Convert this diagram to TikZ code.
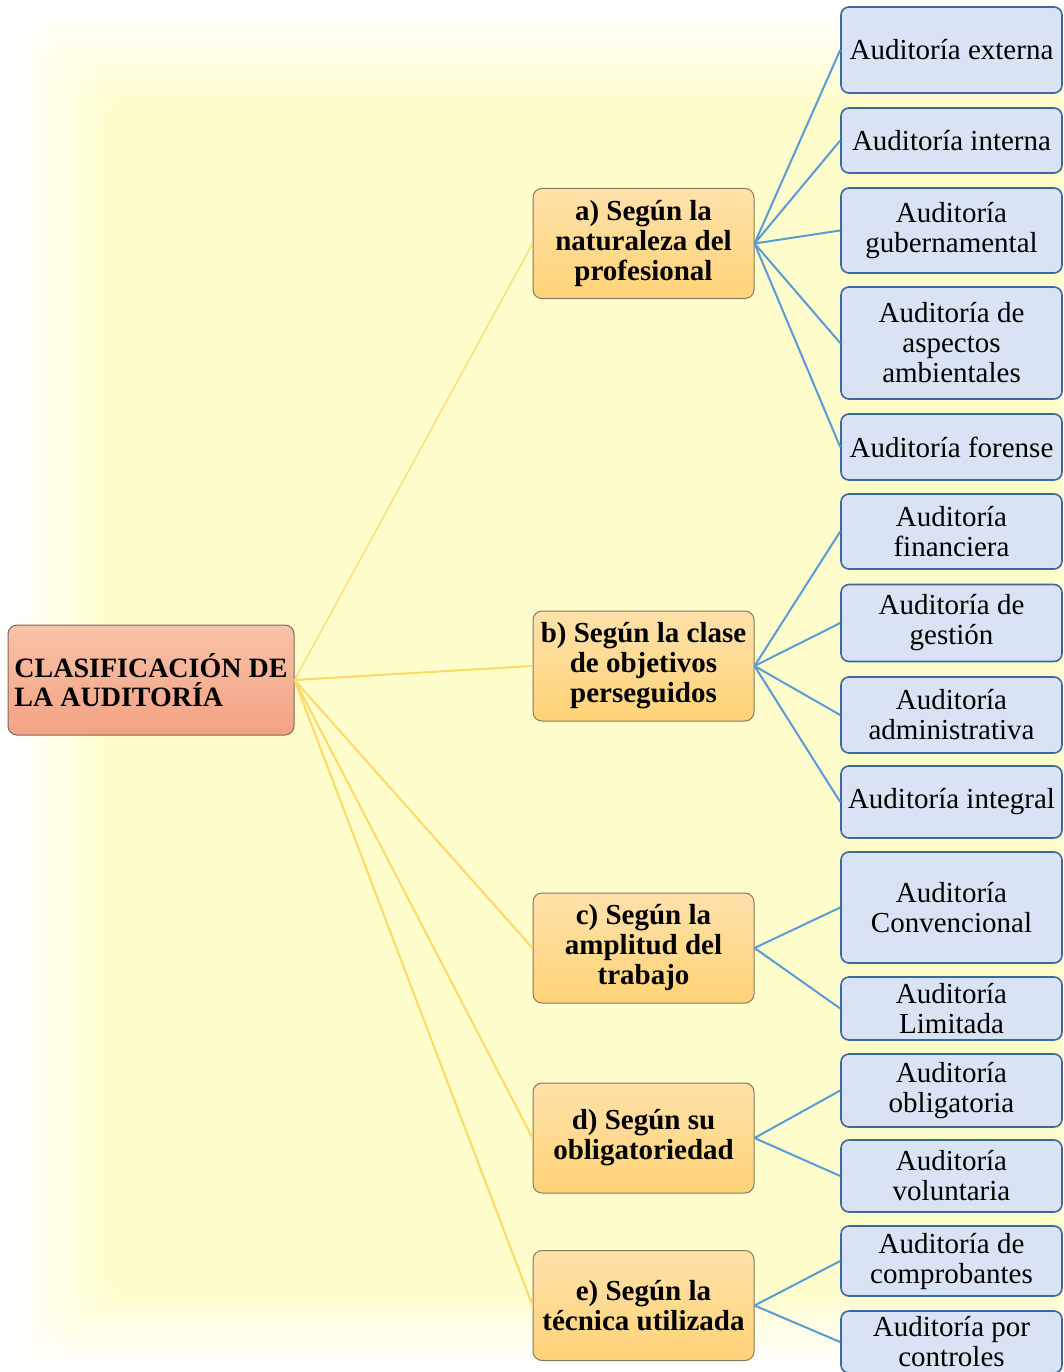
\documentclass[tikz,border=0pt]{standalone}
\usepackage{fontspec}
\setmainfont{Liberation Serif}
\definecolor{bgyellow}{HTML}{FFFDCC}
\definecolor{roottop}{HTML}{F8C3A8}
\definecolor{rootbot}{HTML}{F3A283}
\definecolor{rootline}{HTML}{7E675E}
\definecolor{cattop}{HTML}{FFE1AA}
\definecolor{catbot}{HTML}{FFD377}
\definecolor{catline}{HTML}{857A5C}
\definecolor{leaffill}{HTML}{DAE3F3}
\definecolor{leafline}{HTML}{3E669F}
\definecolor{trunkcol}{HTML}{FFD966}
\definecolor{twigcol}{HTML}{5B9BD5}
\begin{document}
\begin{tikzpicture}[x=1pt,y=-1pt,
  rootbox/.style={draw=rootline, line width=1pt, rounded corners=9pt,
    top color=roottop, bottom color=rootbot, minimum width=286pt,
    minimum height=110pt, inner sep=0pt, align=left,
    font=\fontsize{28}{29.5}\selectfont\bfseries},
  catbox/.style={draw=catline, line width=1pt, rounded corners=9pt,
    top color=cattop, bottom color=catbot, minimum width=221pt,
    minimum height=110pt, inner sep=0pt, align=center,
    font=\fontsize{29}{30}\selectfont\bfseries},
  leafbox/.style={draw=leafline, line width=1.6pt, rounded corners=8pt,
    fill=leaffill, minimum width=221pt, inner sep=0pt, align=center,
    font=\fontsize{29}{30}\selectfont},
  trunk/.style={draw=trunkcol, line width=2pt},
  twig/.style={draw=twigcol, line width=2pt}]

\useasboundingbox (0,0) rectangle (1063,1372);
\clip (0,0) rectangle (1063,1372);

% soft-edged yellow backdrop, built from nested translucent layers
\foreach \k in {1,...,30}{
  \pgfmathsetmacro{\t}{\k/30}
  \pgfmathsetmacro{\op}{1/(31-\k)}
  \fill[bgyellow, fill opacity=\op, rounded corners=30pt]
    ({10+100*\t},{8+95*\t}) rectangle (1120,{1368-76*\t});
}

% root
\node[rootbox] (root) at (151,680) {CLASIFICACIÓN DE\\LA AUDITORÍA};

% categories
\node[catbox] (ca) at (643.5,243.5) {a) Según la\\naturaleza del\\profesional};
\node[catbox] (cb) at (643.5,666) {b) Según la clase\\de objetivos\\perseguidos};
\node[catbox] (cc) at (643.5,948) {c) Según la\\amplitud del\\trabajo};
\node[catbox] (cd) at (643.5,1138) {d) Según su\\obligatoriedad};
\node[catbox] (ce) at (643.5,1305.5) {e) Según la\\técnica utilizada};

% leaves
\node[leafbox, minimum height=86pt] (a1) at (951.5,50) {Auditoría externa};
\node[leafbox, minimum height=65pt] (a2) at (951.5,140.5) {Auditoría interna};
\node[leafbox, minimum height=85pt] (a3) at (951.5,230.5) {Auditoría\\gubernamental};
\node[leafbox, minimum height=112pt] (a4) at (951.5,343) {Auditoría de\\aspectos\\ambientales};
\node[leafbox, minimum height=66pt] (a5) at (951.5,447) {Auditoría forense};

\node[leafbox, minimum height=75pt] (b1) at (951.5,531.5) {Auditoría\\financiera};
\node[leafbox, minimum height=77pt] (b2) at (951.5,623) {Auditoría de\\gestión};
\node[leafbox, minimum height=76pt] (b3) at (951.5,715) {Auditoría\\administrativa};
\node[leafbox, minimum height=72pt] (b4) at (951.5,802) {Auditoría integral};

\node[leafbox, minimum height=111pt] (c1) at (951.5,907.5) {Auditoría\\Convencional};
\node[leafbox, minimum height=63pt] (c2) at (951.5,1008.5) {Auditoría\\Limitada};

\node[leafbox, minimum height=73pt] (d1) at (951.5,1090.5) {Auditoría\\obligatoria};
\node[leafbox, minimum height=72pt] (d2) at (951.5,1176) {Auditoría\\voluntaria};

\node[leafbox, minimum height=70pt] (e1) at (951.5,1261) {Auditoría de\\comprobantes};
\node[leafbox, minimum height=62pt] (e2) at (951.5,1342) {Auditoría por\\controles};

% root to categories
\draw[trunk, line width=1.2pt] (root.east) -- (ca.west);
\foreach \c in {cb,cc,cd,ce}
  \draw[trunk] (root.east) -- (\c.west);

% categories to leaves
\foreach \l in {a1,a2,a3,a4,a5} \draw[twig] (ca.east) -- (\l.west);
\foreach \l in {b1,b2,b3,b4} \draw[twig] (cb.east) -- (\l.west);
\foreach \l in {c1,c2} \draw[twig] (cc.east) -- (\l.west);
\foreach \l in {d1,d2} \draw[twig] (cd.east) -- (\l.west);
\foreach \l in {e1,e2} \draw[twig] (ce.east) -- (\l.west);

\end{tikzpicture}
\end{document}
